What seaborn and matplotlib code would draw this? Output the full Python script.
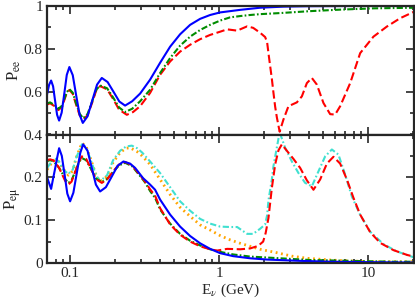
import numpy as np
import pandas as pd
import seaborn as sns
import matplotlib
matplotlib.use("Agg")
import matplotlib.pyplot as plt
from matplotlib.ticker import LogLocator, NullFormatter, FixedLocator, MultipleLocator

# ---------------- data ----------------
# Top panel: P_ee
ee_blue_E = [0.0701, 0.0723, 0.0746, 0.0769, 0.0793, 0.0818, 0.0844, 0.0878, 0.0914, 0.0950,
             0.0989, 0.1042, 0.1097, 0.1159, 0.1217, 0.1310, 0.1409, 0.1517, 0.1632, 0.1785,
             0.1954, 0.2139, 0.2339, 0.2607, 0.2950, 0.3442, 0.4018, 0.4690, 0.5472, 0.6388,
             0.7455, 0.8701, 1.0156, 1.3835, 1.885, 2.7, 4.0, 8.0, 20.7]
ee_blue_P = [0.588, 0.632, 0.652, 0.625, 0.558, 0.492, 0.465, 0.502, 0.590, 0.678,
             0.715, 0.677, 0.585, 0.492, 0.454, 0.485, 0.559, 0.633, 0.664, 0.645,
             0.600, 0.554, 0.535, 0.555, 0.591, 0.656, 0.735, 0.810, 0.868, 0.912,
             0.940, 0.958, 0.970, 0.982, 0.992, 0.997, 0.999, 1.0, 1.0]

ee_red_E = [0.0701, 0.0734, 0.0787, 0.0835, 0.0884, 0.0919, 0.0950, 0.0989, 0.1042, 0.1097,
            0.1159, 0.1224, 0.1310, 0.1409, 0.1494, 0.1590, 0.1771, 0.1944, 0.2133, 0.2402,
            0.2647, 0.2950, 0.3442, 0.4018, 0.4690, 0.5472, 0.6388, 0.7455, 0.8701, 1.0156,
            1.1316, 1.3209, 1.5418, 1.6916, 1.8847, 2.0361, 2.0999, 2.1426, 2.1995, 2.2580,
            2.3146, 2.3762, 2.4395, 2.5473, 2.7012, 2.9184, 3.3230, 3.5899, 3.8781, 4.1894,
            4.5260, 5.0119, 5.5586, 6.0050, 6.4874, 7.5741, 8.8379, 10.854, 13.350, 16.395, 20.7]
ee_red_P = [0.540, 0.546, 0.532, 0.514, 0.530, 0.565, 0.594, 0.608, 0.590, 0.540,
            0.490, 0.470, 0.490, 0.550, 0.604, 0.626, 0.611, 0.566, 0.516, 0.492,
            0.505, 0.532, 0.594, 0.679, 0.741, 0.787, 0.819, 0.845, 0.865, 0.880,
            0.891, 0.885, 0.905, 0.898, 0.875, 0.855, 0.830, 0.780, 0.720, 0.660,
            0.595, 0.530, 0.480, 0.413, 0.470, 0.532, 0.550, 0.578, 0.640, 0.664,
            0.633, 0.547, 0.495, 0.493, 0.532, 0.640, 0.780, 0.857, 0.904, 0.943, 0.976]

ee_green_E = [0.0701, 0.0734, 0.0787, 0.0835, 0.0884, 0.0919, 0.0950, 0.0989, 0.1042, 0.1097,
              0.1159, 0.1224, 0.1310, 0.1409, 0.1494, 0.1590, 0.1771, 0.1944, 0.2133, 0.2339,
              0.2607, 0.2950, 0.3442, 0.4018, 0.4690, 0.5472, 0.6388, 0.7455, 0.8701, 1.0156,
              1.1852, 1.3835, 1.6149, 1.8847, 2.5671, 4.0808, 6.4874, 10.854, 20.7]
ee_green_P = [0.545, 0.550, 0.537, 0.520, 0.535, 0.570, 0.598, 0.612, 0.595, 0.546,
              0.497, 0.476, 0.496, 0.556, 0.608, 0.629, 0.616, 0.573, 0.526, 0.505,
              0.520, 0.555, 0.609, 0.687, 0.757, 0.815, 0.857, 0.888, 0.912, 0.932,
              0.947, 0.953, 0.958, 0.962, 0.967, 0.976, 0.983, 0.989, 0.992]

# Bottom panel: P_emu
em_blue_E = [0.0701, 0.0746, 0.0769, 0.0793, 0.0818, 0.0844, 0.0880, 0.0919, 0.0958, 0.1000,
             0.1052, 0.1109, 0.1170, 0.1224, 0.1310, 0.1398, 0.1490, 0.1590, 0.1739, 0.1905,
             0.2084, 0.2279, 0.2528, 0.2731, 0.3090, 0.3442, 0.3719, 0.4018, 0.4690, 0.5472,
             0.6388, 0.7455, 0.8701, 1.0156, 1.2415, 1.6149, 2.0999, 3.5, 5.6, 10.0, 20.7]
em_blue_P = [0.200, 0.173, 0.197, 0.220, 0.245, 0.268, 0.250, 0.206, 0.162, 0.144,
             0.164, 0.210, 0.257, 0.277, 0.262, 0.222, 0.183, 0.167, 0.177, 0.202,
             0.227, 0.237, 0.232, 0.222, 0.198, 0.183, 0.171, 0.148, 0.113, 0.085,
             0.063, 0.046, 0.033, 0.023, 0.016, 0.011, 0.008, 0.005, 0.003, 0.002, 0.001]

em_red_E = [0.0701, 0.0734, 0.0769, 0.0805, 0.0844, 0.0884, 0.0926, 0.0974, 0.1023, 0.1080,
            0.1143, 0.1200, 0.1282, 0.1383, 0.1494, 0.1632, 0.1771, 0.1944, 0.2133, 0.2340,
            0.2607, 0.2950, 0.3186, 0.3442, 0.3719, 0.4018, 0.4690, 0.5472, 0.6388, 0.7455,
            0.8701, 0.9696, 1.1316, 1.3835, 1.6149, 1.8273, 1.9741, 2.0519, 2.1426, 2.2580,
            2.3762, 2.5005, 2.6353, 2.8472, 3.1530, 3.4969, 3.8781, 4.2943, 4.7626, 5.2823,
            5.8493, 6.4874, 7.1977, 7.9704, 8.8379, 10.314, 12.038, 14.784, 18.185, 20.7]
em_red_P = [0.240, 0.242, 0.240, 0.232, 0.222, 0.207, 0.192, 0.183, 0.190, 0.212,
            0.236, 0.249, 0.243, 0.220, 0.196, 0.187, 0.195, 0.214, 0.230, 0.236,
            0.228, 0.205, 0.190, 0.172, 0.157, 0.128, 0.090, 0.066, 0.050, 0.039,
            0.032, 0.029, 0.033, 0.032, 0.034, 0.040, 0.050, 0.070, 0.105, 0.175,
            0.230, 0.263, 0.277, 0.262, 0.243, 0.222, 0.193, 0.171, 0.195, 0.232,
            0.248, 0.232, 0.195, 0.152, 0.113, 0.072, 0.047, 0.030, 0.019, 0.014]

em_green_E = [0.0701, 0.0734, 0.0769, 0.0805, 0.0844, 0.0884, 0.0926, 0.0974, 0.1023, 0.1080,
              0.1143, 0.1200, 0.1282, 0.1383, 0.1494, 0.1632, 0.1771, 0.1944, 0.2133, 0.2340,
              0.2607, 0.2950, 0.3186, 0.3442, 0.3719, 0.4018, 0.4690, 0.5472, 0.6388, 0.7455,
              0.8701, 1.0156, 1.2415, 1.6149, 2.5671, 4.0808, 7.5741, 14.784, 20.7]
em_green_P = [0.238, 0.240, 0.238, 0.231, 0.222, 0.210, 0.196, 0.187, 0.193, 0.213,
              0.234, 0.245, 0.240, 0.219, 0.197, 0.189, 0.196, 0.213, 0.228, 0.234,
              0.226, 0.203, 0.188, 0.168, 0.152, 0.125, 0.092, 0.068, 0.052, 0.041,
              0.032, 0.026, 0.020, 0.015, 0.011, 0.007, 0.005, 0.003, 0.003]

em_cyan_E = [0.0701, 0.0746, 0.0793, 0.0844, 0.0898, 0.0974, 0.1042, 0.1097, 0.1200, 0.1282,
             0.1383, 0.1494, 0.1590, 0.1771, 0.1944, 0.2166, 0.2376, 0.2595, 0.2816, 0.3042,
             0.3442, 0.4018, 0.4690, 0.5472, 0.6388, 0.7455, 0.8701, 1.0156, 1.1852, 1.3209,
             1.5418, 1.6916, 1.8847, 2.0361, 2.0999, 2.1426, 2.2580, 2.3146, 2.4395, 2.5473,
             2.7733, 3.0760, 3.4062, 3.7776, 4.1894, 4.6392, 5.1453, 5.7065, 6.3192, 7.0110,
             7.7757, 8.8379, 10.314, 12.667, 15.582, 20.7]
em_cyan_P = [0.222, 0.235, 0.245, 0.236, 0.218, 0.208, 0.218, 0.245, 0.277, 0.270,
             0.238, 0.205, 0.191, 0.205, 0.240, 0.262, 0.272, 0.274, 0.268, 0.258,
             0.237, 0.210, 0.177, 0.144, 0.122, 0.103, 0.092, 0.085, 0.084, 0.084,
             0.068, 0.068, 0.080, 0.090, 0.112, 0.146, 0.195, 0.226, 0.270, 0.305,
             0.269, 0.237, 0.210, 0.187, 0.179, 0.214, 0.249, 0.265, 0.253, 0.206,
             0.155, 0.1125, 0.073, 0.044, 0.027, 0.012]

em_orange_E = [0.0701, 0.0746, 0.0793, 0.0844, 0.0898, 0.0974, 0.1042, 0.1097, 0.1200, 0.1282,
               0.1383, 0.1494, 0.1590, 0.1771, 0.1944, 0.2166, 0.2376, 0.2528, 0.2816, 0.3042,
               0.3442, 0.4018, 0.4690, 0.5472, 0.6388, 0.7455, 0.8701, 1.0156, 1.1852, 1.3835,
               1.6149, 1.8847, 2.4395, 3.0760, 3.9, 5.56, 7.2, 10.3, 20.7]
em_orange_P = [0.218, 0.232, 0.242, 0.236, 0.220, 0.205, 0.215, 0.245, 0.280, 0.272,
               0.240, 0.205, 0.190, 0.202, 0.235, 0.258, 0.268, 0.269, 0.260, 0.250,
               0.230, 0.195, 0.160, 0.130, 0.109, 0.089, 0.077, 0.064, 0.054, 0.046,
               0.039, 0.032, 0.024, 0.016, 0.011, 0.007, 0.005, 0.003, 0.003]

x_major = [0.1, 1, 10]
x_major_labels = ["0.1", "1", "10"]
ee_yticks = [0.4, 0.6, 0.8, 1.0]
ee_ylabels = ["0.4", "0.6", "0.8", "1"]
em_yticks = [0.0, 0.1, 0.2]
em_ylabels = ["0", "0.1", "0.2"]

# ---------------- style ----------------
sns.set_style("ticks")
plt.rcParams["font.family"] = ["Liberation Serif", "DejaVu Serif"]
plt.rcParams["mathtext.fontset"] = "stix"
plt.rcParams["lines.scale_dashes"] = False

BLUE = "#0000ff"
RED = "#ff0000"
GREEN = "#008c00"
ORANGE = "#ffa500"
CYAN = "#40e0d0"

LW = 1.5
ls_red = (0, (6.0, 2.6))
ls_green = (0, (4.5, 1.6, 1.2, 1.6))
ls_cyan = (0, (4.5, 1.8, 1.2, 1.8))
ls_orange = (0, (1.3, 2.6))

fig = plt.figure(figsize=(4.15, 3.01), dpi=100)
gs = fig.add_gridspec(2, 1, left=47 / 415, right=414 / 415, bottom=38 / 301, top=295 / 301, hspace=0)
ax1 = fig.add_subplot(gs[0])
ax2 = fig.add_subplot(gs[1], sharex=ax1)


def line(ax, x, y, color, ls, lw=LW):
    df = pd.DataFrame({"E": x, "P": y})
    sns.lineplot(data=df, x="E", y="P", ax=ax, color=color, linestyle=ls, linewidth=lw,
                 estimator=None, sort=False)


# top panel
line(ax1, ee_red_E, ee_red_P, RED, ls_red)
line(ax1, ee_green_E, ee_green_P, GREEN, ls_green)
line(ax1, ee_blue_E, ee_blue_P, BLUE, "-")

# bottom panel
line(ax2, em_orange_E, em_orange_P, ORANGE, ls_orange, lw=2.0)
line(ax2, em_cyan_E, em_cyan_P, CYAN, ls_cyan)
line(ax2, em_green_E, em_green_P, GREEN, ls_green)
line(ax2, em_red_E, em_red_P, RED, ls_red)
line(ax2, em_blue_E, em_blue_P, BLUE, "-")

for ax in (ax1, ax2):
    ax.set_xscale("log")
    ax.set_xlim(0.07, 20.3)
    ax.xaxis.set_major_locator(FixedLocator(x_major))
    ax.xaxis.set_minor_locator(LogLocator(base=10, subs=np.arange(2, 10), numticks=20))
    ax.xaxis.set_minor_formatter(NullFormatter())
    ax.tick_params(which="both", direction="in", top=True, right=True, width=1.2,
                   labelsize=11, pad=3)
    ax.tick_params(which="major", length=6)
    ax.tick_params(which="minor", length=3)
    for s in ax.spines.values():
        s.set_linewidth(1.6)
    ax.set_xlabel("")

ax1.set_ylim(0.4, 1.0)
ax1.set_yticks(ee_yticks)
ax1.set_yticklabels(ee_ylabels)
ax1.yaxis.set_minor_locator(MultipleLocator(0.1))
ax1.tick_params(axis="x", labelbottom=False)
ax1.set_ylabel(r"P$_{\rm ee}$", fontsize=12)
ax1.yaxis.set_label_coords(-0.066, 0.5)

ax2.set_ylim(0.0, 0.3)
ax2.set_yticks(em_yticks)
ax2.set_yticklabels(em_ylabels)
ax2.yaxis.set_minor_locator(MultipleLocator(0.05))
ax2.set_xticks(x_major)
ax2.set_xticklabels(x_major_labels)
ax2.set_ylabel(r"P$_{\rm e\mu}$", fontsize=12)
ax2.yaxis.set_label_coords(-0.066, 0.5)
ax2.set_xlabel(r"E$_{\nu}$ (GeV)", fontsize=11, labelpad=1)

fig.savefig("out.png", dpi=100)
